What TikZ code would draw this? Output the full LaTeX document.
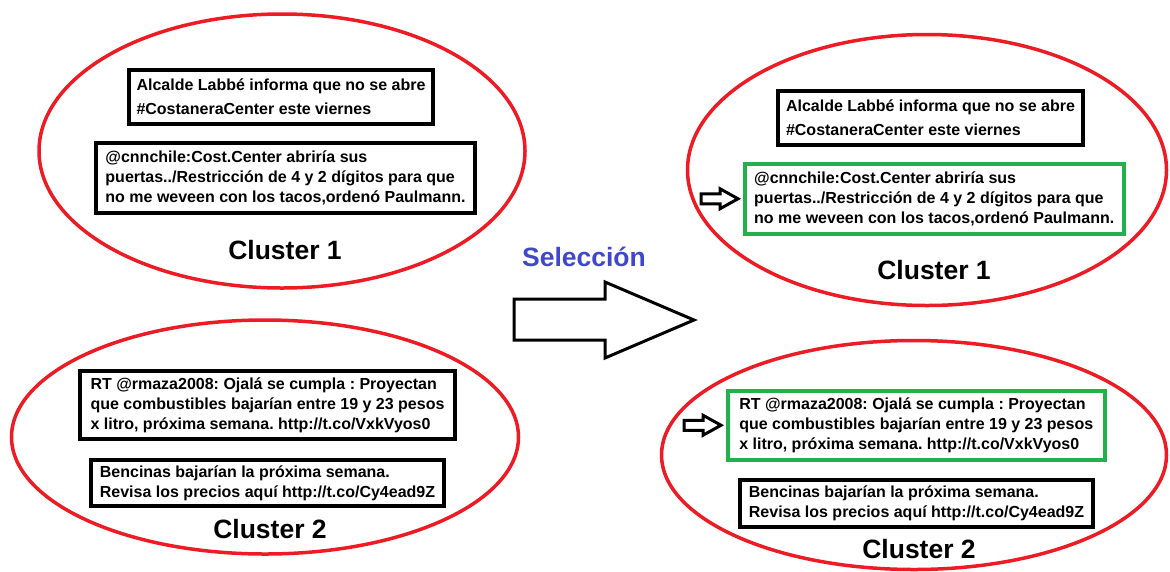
\documentclass[tikz,border=0pt]{standalone}
\usepackage{fontspec}
\setmainfont{Liberation Sans}
\usepackage{tikz}
\usetikzlibrary{shapes.geometric, arrows}
\frenchspacing
\definecolor{paintred}{HTML}{ED1C24}
\definecolor{paintgreen}{HTML}{22B14C}
\definecolor{paintblue}{HTML}{3F48CC}
\tikzstyle{cluster} = [ellipse, draw=paintred, line width=3.5pt, inner sep=0pt]
\tikzstyle{tweet} = [rectangle, draw=black, line width=4pt, anchor=north west, align=left, inner sep=0pt, font=\bfseries\fontsize{16}{20}\selectfont]
\tikzstyle{chosen} = [tweet, draw=paintgreen, line width=3.5pt]
\tikzstyle{clustername} = [font=\bfseries\fontsize{26.5}{30}\selectfont]
\tikzstyle{blockarrow} = [draw=black, line width=3pt, line join=miter]

\begin{document}
\begin{tikzpicture}[x=1pt, y=-1pt]
    \useasboundingbox (0,0) rectangle (1170,571);
    % clusters before selection
    \node (c1L) [cluster, minimum width=486, minimum height=274] at (282,151) {};
    \node (c2L) [cluster, minimum width=507, minimum height=234] at (265,437) {};
    \node (t1aL) [tweet, minimum width=304, minimum height=54, font=\bfseries\fontsize{16}{24}\selectfont] at (127,68) {Alcalde Labbé informa que no se abre\\\#CostaneraCenter este viernes};
    \node (t1bL) [tweet, minimum width=379, minimum height=70] at (94,141) {@cnnchile:Cost.Center abriría sus\\puertas../Restricción de 4 y 2 dígitos para que\\no me weveen con los tacos,ordenó Paulmann.};
    \node (n1L) [clustername] at (285,250) {Cluster 1};
    \node (t2aL) [tweet, minimum width=375, minimum height=68] at (78,369) {RT @rmaza2008: Ojalá se cumpla : Proyectan\\que combustibles bajarían entre 19 y 23 pesos\\x litro, próxima semana. http://t.co/VxkVyos0};
    \node (t2bL) [tweet, minimum width=353, minimum height=46] at (89,458) {Bencinas bajarían la próxima semana.\\Revisa los precios aquí http://t.co/Cy4ead9Z};
    \node (n2L) [clustername] at (270,529) {Cluster 2};
    % selection step
    \node (sel) [clustername, text=paintblue] at (584,257) {Selección};
    \draw [blockarrow] (514,299) -- (605,299) -- (605,282) -- (694,320) -- (605,358) -- (605,340) -- (514,340) -- cycle;
    % clusters after selection
    \node (c1R) [cluster, minimum width=479, minimum height=271] at (927,170) {};
    \node (c2R) [cluster, minimum width=505, minimum height=229] at (914,455) {};
    \node (t1aR) [tweet, minimum width=305, minimum height=54, font=\bfseries\fontsize{16}{24}\selectfont] at (776,89) {Alcalde Labbé informa que no se abre\\\#CostaneraCenter este viernes};
    \node (t1bR) [chosen, minimum width=379, minimum height=70] at (743,162) {@cnnchile:Cost.Center abriría sus\\puertas../Restricción de 4 y 2 dígitos para que\\no me weveen con los tacos,ordenó Paulmann.};
    \node (n1R) [clustername] at (934,270) {Cluster 1};
    \node (t2aR) [chosen, minimum width=377, minimum height=69] at (726,389) {RT @rmaza2008: Ojalá se cumpla : Proyectan\\que combustibles bajarían entre 19 y 23 pesos\\x litro, próxima semana. http://t.co/VxkVyos0};
    \node (t2bR) [tweet, minimum width=353, minimum height=47] at (738,478) {Bencinas bajarían la próxima semana.\\Revisa los precios aquí http://t.co/Cy4ead9Z};
    \node (n2R) [clustername] at (919,549) {Cluster 2};
    \draw [blockarrow, shift={([xshift=-42pt]t1bR.west)}] (0,-5) -- (19,-5) -- (19,-10) -- (37,0) -- (19,10) -- (19,5) -- (0,5) -- cycle;
    \draw [blockarrow, shift={([xshift=-42pt]t2aR.west)}] (0,-5) -- (19,-5) -- (19,-10) -- (37,0) -- (19,10) -- (19,5) -- (0,5) -- cycle;
\end{tikzpicture}
\end{document}
